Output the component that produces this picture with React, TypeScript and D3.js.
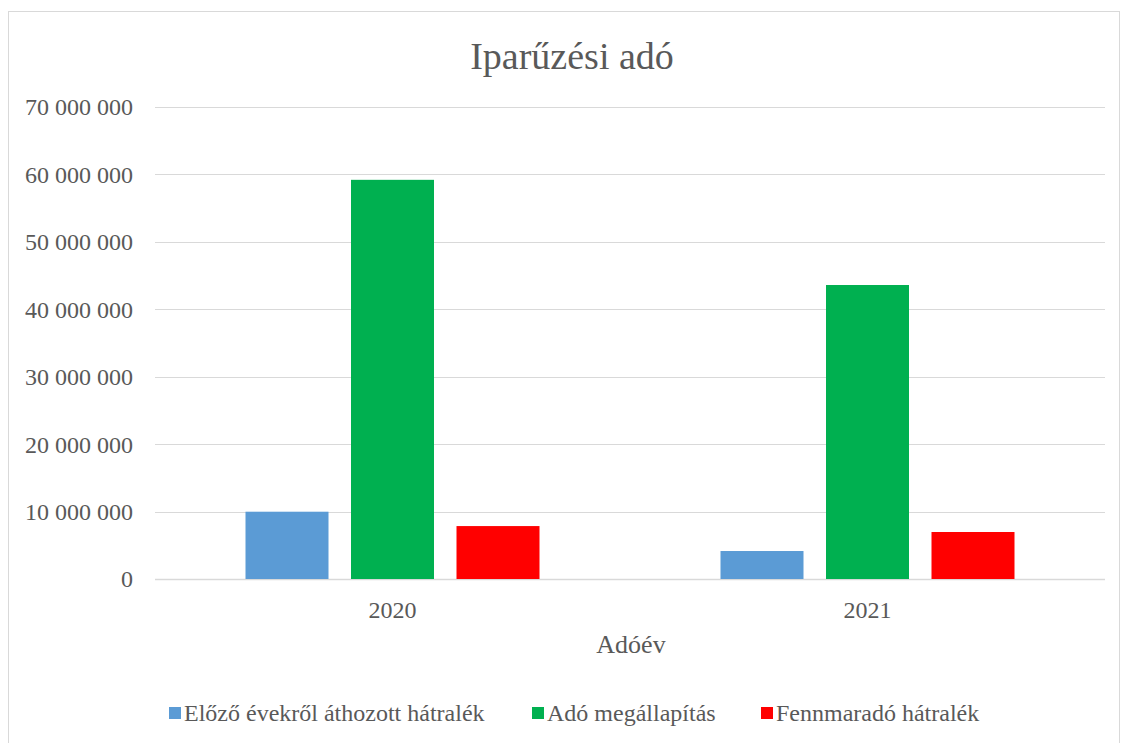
import React from "react";
import * as d3 from "d3";

const years = ["2020", "2021"];
const seriesNames = ["Előző évekről áthozott hátralék", "Adó megállapítás", "Fennmaradó hátralék"];
const seriesColors = ["#5b9bd5", "#00b050", "#ff0000"];
const prevArrears = [9980000, 4150000];
const taxAssessed = [59200000, 43600000];
const remainingArrears = [7850000, 6970000];
const yTicks = [0, 10000000, 20000000, 30000000, 40000000, 50000000, 60000000, 70000000];

const W = 1128,
  H = 743;
const font = '"Liberation Serif", "Times New Roman", Times, serif';

export default function App() {
  const series = [prevArrears, taxAssessed, remainingArrears];

  // plot area
  const left = 155,
    right = 1105,
    top = 107,
    bottom = 579;

  const y = d3.scaleLinear().domain([0, 70000000]).range([bottom, top]);
  const x0 = d3.scaleBand().domain(years).range([left, right]).paddingInner(0).paddingOuter(0);
  // inner group: 3 bars of ~83px with ~22px gaps, centred in the band
  const barW = 83,
    gap = 22.5;
  const groupW = barW * 3 + gap * 2;
  const x1 = d3
    .scaleBand<number>()
    .domain([0, 1, 2])
    .range([0, groupW])
    .paddingInner(gap / (barW + gap))
    .paddingOuter(0);

  const fmt = (v: number) => d3.format(",")(v).replace(/,/g, " ");

  const legendX = [169, 532, 761];

  return (
    <svg
      width={W}
      height={H}
      style={{ position: "absolute", left: 0, top: 0, background: "#fff", fontFamily: font }}
    >
      <rect x={8.5} y={11.5} width={1111} height={760} fill="#fff" stroke="#d9d9d9" />
      <text x={572} y={56} dy="0.35em" textAnchor="middle" fontSize={38} fill="#595959">
        Iparűzési adó
      </text>

      {/* gridlines and y labels */}
      {yTicks.map(t => (
        <g key={t}>
          <line x1={left} x2={right} y1={Math.round(y(t)) + 0.5} y2={Math.round(y(t)) + 0.5} stroke="#d9d9d9" strokeWidth={t === 0 ? 1.5 : 1} />
          <text x={133} y={y(t)} dy="0.35em" textAnchor="end" fontSize={24} fill="#595959">
            {fmt(t)}
          </text>
        </g>
      ))}

      {/* bars */}
      {years.map((yr, i) => {
        const gx = (x0(yr) as number) + (x0.bandwidth() - groupW) / 2;
        return (
          <g key={yr} transform={`translate(${gx},0)`}>
            {series.map((s, j) => (
              <rect
                key={j}
                x={x1(j)}
                y={y(s[i])}
                width={x1.bandwidth()}
                height={y(0) - y(s[i])}
                fill={seriesColors[j]}
              />
            ))}
          </g>
        );
      })}

      {/* x labels */}
      {years.map(yr => (
        <text
          key={yr}
          x={(x0(yr) as number) + x0.bandwidth() / 2}
          y={610}
          dy="0.35em"
          textAnchor="middle"
          fontSize={24}
          fill="#595959"
        >
          {yr}
        </text>
      ))}
      <text x={631} y={644} dy="0.35em" textAnchor="middle" fontSize={26} fill="#595959">
        Adóév
      </text>

      {/* legend */}
      {seriesNames.map((n, j) => (
        <g key={n}>
          <rect x={legendX[j]} y={707} width={12} height={12} fill={seriesColors[j]} />
          <text x={legendX[j] + 15} y={713} dy="0.35em" fontSize={24} fill="#595959">
            {n}
          </text>
        </g>
      ))}
    </svg>
  );
}
